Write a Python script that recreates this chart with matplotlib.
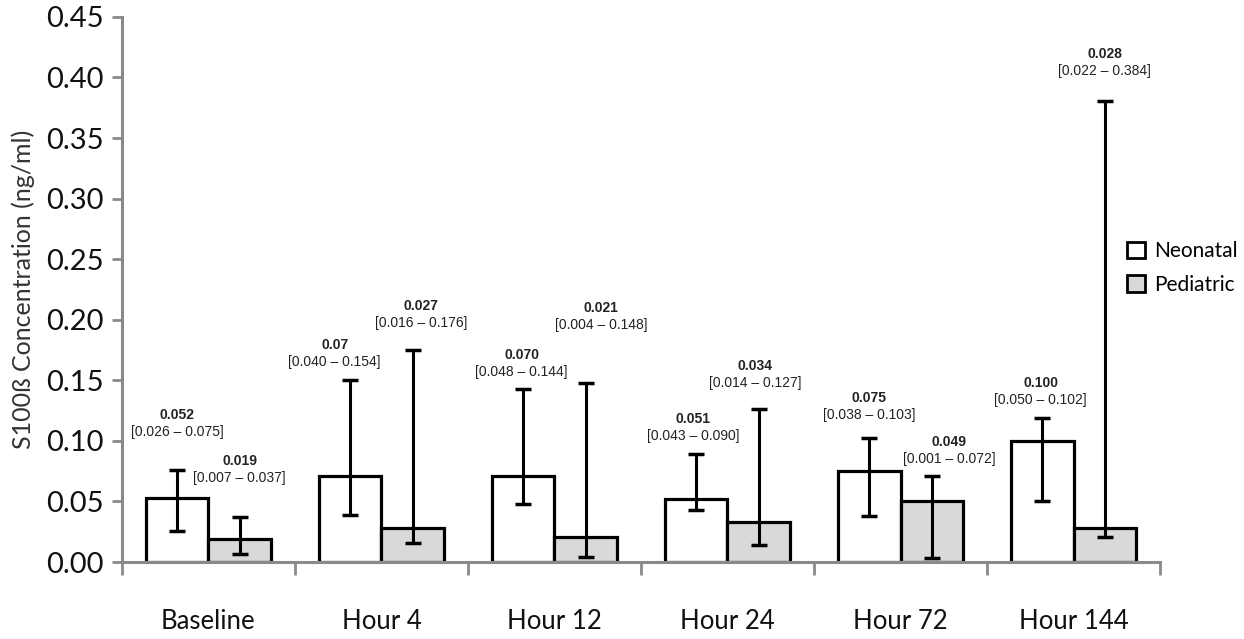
import numpy as np
import matplotlib
matplotlib.use("Agg")
import matplotlib.pyplot as plt

# values
groups = ["Baseline", "Hour 4", "Hour 12", "Hour 24", "Hour 72", "Hour 144"]
neo_median = [0.053, 0.071, 0.071, 0.052, 0.075, 0.100]
neo_low = [0.026, 0.039, 0.048, 0.043, 0.038, 0.050]
neo_high = [0.076, 0.150, 0.143, 0.089, 0.102, 0.119]
ped_median = [0.019, 0.028, 0.021, 0.033, 0.050, 0.028]
ped_low = [0.007, 0.016, 0.004, 0.014, 0.003, 0.021]
ped_high = [0.037, 0.175, 0.148, 0.126, 0.071, 0.381]

neo_text = ["0.052", "0.07", "0.070", "0.051", "0.075", "0.100"]
neo_range = ["[0.026 – 0.075]", "[0.040 – 0.154]", "[0.048 – 0.144]",
             "[0.043 – 0.090]", "[0.038 – 0.103]", "[0.050 – 0.102]"]
ped_text = ["0.019", "0.027", "0.021", "0.034", "0.049", "0.028"]
ped_range = ["[0.007 – 0.037]", "[0.016 – 0.176]", "[0.004 – 0.148]",
             "[0.014 – 0.127]", "[0.001 – 0.072]", "[0.022 – 0.384]"]

# where the annotation text sits (label layout)
neo_lab_y = [0.1216, 0.1795, 0.171, 0.118, 0.1356, 0.148]
ped_lab_y = [0.0835, 0.211, 0.210, 0.162, 0.099, 0.419]
neo_lab_dx = [0.0, -0.09, -0.01, -0.02, 0.0, -0.01]
ped_lab_dx = [0.0, 0.05, 0.09, -0.02, 0.10, 0.0]

grey_axis = "#8a8a8a"
w = 0.36
x = np.arange(len(groups))

fig = plt.figure(figsize=(12.44, 6.39), dpi=100)
ax = fig.add_axes([0.098, 0.1205, 0.8345, 0.853])

neo_err = [np.array(neo_median) - np.array(neo_low), np.array(neo_high) - np.array(neo_median)]
ped_err = [np.array(ped_median) - np.array(ped_low), np.array(ped_high) - np.array(ped_median)]

ax.bar(x - w / 2, neo_median, w, color="white", edgecolor="black", linewidth=2.3,
       label="Neonatal", zorder=2)
ax.bar(x + w / 2, ped_median, w, color="#d9d9d9", edgecolor="black", linewidth=2.3,
       label="Pediatric", zorder=2)
ax.errorbar(x - w / 2, neo_median, yerr=neo_err, fmt="none", ecolor="black",
            elinewidth=2.2, capsize=6, capthick=2.5, zorder=3)
ax.errorbar(x + w / 2, ped_median, yerr=ped_err, fmt="none", ecolor="black",
            elinewidth=2.2, capsize=6, capthick=2.5, zorder=3)

small = dict(ha="center", va="center", fontsize=10, family="Liberation Sans", color="#222222")
for i in range(len(groups)):
    xn = x[i] - w / 2 + neo_lab_dx[i]
    ax.text(xn, neo_lab_y[i], neo_text[i], fontweight="bold", **small)
    ax.text(xn, neo_lab_y[i] - 0.014, neo_range[i], **small)
    xp = x[i] + w / 2 + ped_lab_dx[i]
    ax.text(xp, ped_lab_y[i], ped_text[i], fontweight="bold", **small)
    ax.text(xp, ped_lab_y[i] - 0.014, ped_range[i], **small)

ax.set_xlim(-0.5, len(groups) - 0.5)
ax.set_ylim(0, 0.45)
ax.set_yticks(np.arange(0, 0.451, 0.05))
ax.set_yticklabels([f"{v:.2f}" for v in np.arange(0, 0.451, 0.05)],
                   fontsize=21, family="Lato", color="#111111")
ax.set_xticks(x)
ax.set_xticklabels(groups, fontsize=18.5, family="Lato", color="#111111")
ax.set_xticks(np.arange(-0.5, len(groups)), minor=True)
ax.tick_params(axis="x", which="major", length=0, pad=34)
ax.tick_params(axis="x", which="minor", length=9, width=2, color=grey_axis)
ax.tick_params(axis="y", length=7, width=2, color=grey_axis, pad=6)

for s in ["top", "right"]:
    ax.spines[s].set_visible(False)
for s in ["left", "bottom"]:
    ax.spines[s].set_color(grey_axis)
    ax.spines[s].set_linewidth(2.2)

ax.set_ylabel("S100ß Concentration (ng/ml)", fontsize=18, family="Lato", color="#333333",
              labelpad=8)

leg = ax.legend(loc="upper left", bbox_to_anchor=(0.96, 0.604), frameon=False,
                prop={"family": "Lato", "size": 15}, handlelength=0.85, handleheight=0.85,
                handletextpad=0.45, labelspacing=0.65, borderaxespad=0)
for h in leg.legend_handles:
    h.set_linewidth(2.0)

fig.savefig("out.png", dpi=100)
